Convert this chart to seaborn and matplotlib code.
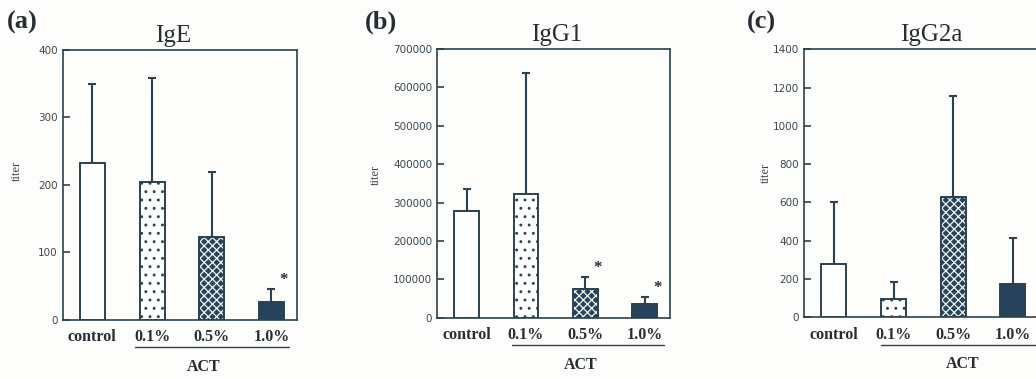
import numpy as np
import pandas as pd
import matplotlib
matplotlib.use("Agg")
import matplotlib.pyplot as plt
import seaborn as sns
from matplotlib.colors import to_rgba
from matplotlib.ticker import MultipleLocator, FuncFormatter
from matplotlib.transforms import blended_transform_factory

# ---- data -------------------------------------------------------------
groups = ["control", "0.1%", "0.5%", "1.0%"]

ige_mean = [232, 204, 123, 26]
ige_sd = [118, 154, 96, 19]
ige_sig = [False, False, False, True]

igg1_mean = [279000, 323000, 75000, 36000]
igg1_sd = [56000, 314000, 31000, 17000]
igg1_sig = [False, False, True, True]

igg2a_mean = [278, 98, 629, 175]
igg2a_sd = [325, 89, 528, 241]
igg2a_sig = [False, False, False, False]

panel_letters = ["(a)", "(b)", "(c)"]
panel_titles = ["IgE", "IgG1", "IgG2a"]
y_max = [400, 700000, 1400]
y_step = [100, 100000, 200]

# ---- style ------------------------------------------------------------
sns.set_style("white")
INK = "#2c414e"
TEXT = "#262d33"
DARK = "#27435b"
BG = "#fdfdfb"
plt.rcParams["font.family"] = ["Liberation Serif", "DejaVu Serif"]
plt.rcParams["hatch.linewidth"] = 0.9

W, H = 1036, 379
fig = plt.figure(figsize=(W / 100, H / 100), dpi=100, facecolor=BG)

# axes boxes in pixels: left, top, right, bottom
boxes = [(62.5, 50.0, 296.5, 319.5),
         (437.0, 49.0, 669.5, 317.7),
         (804.0, 49.3, 1038.0, 317.3)]
title_x = [0.472, 0.517, 0.543]
ylabel_xy = [(-0.169, 0.55), (-0.237, 0.53), (-0.137, 0.54)]
letter_x = [7, 365, 747]
act_x = [1.86, 1.92, 2.15]
line_span = [(0.72, 3.29), (0.77, 3.32), (0.79, 3.7)]

fills = ["white", "white", DARK, DARK]
hatches = [None, "..", "xxxx", None]

panels = [(ige_mean, ige_sd, ige_sig),
          (igg1_mean, igg1_sd, igg1_sig),
          (igg2a_mean, igg2a_sd, igg2a_sig)]

for i, (mean, sd, sig) in enumerate(panels):
    l, t, r, b = boxes[i]
    ax = fig.add_axes([l / W, (H - b) / H, (r - l) / W, (b - t) / H])
    ax.set_facecolor(BG)

    df = pd.DataFrame({"group": groups, "titer": mean})
    sns.barplot(data=df, x="group", y="titer", ax=ax, width=0.42,
                color="white", errorbar=None, zorder=3)

    for p, fc, hatch in zip(ax.patches, fills, hatches):
        p.set_facecolor(fc)
        p.set_edgecolor(INK)
        p.set_linewidth(1.4)
        if hatch:
            p.set_hatch(hatch)
            if fc == DARK:
                # light lattice lines over the dark fill
                if hasattr(p, "set_hatchcolor"):
                    p.set_hatchcolor("#f4f4f0")
                else:
                    p._hatch_color = to_rgba("#f4f4f0")

    x = np.arange(len(groups))
    ax.errorbar(x, mean, yerr=[np.zeros(len(sd)), sd], fmt="none",
                ecolor=INK, elinewidth=1.5, capsize=3.0, capthick=1.5,
                zorder=2)

    # significance marks
    for xi, m, s, flag in zip(x, mean, sd, sig):
        if flag:
            ax.text(xi + 0.21, (m + s) + 0.035 * y_max[i], "*",
                    ha="center", va="center", fontsize=12,
                    fontweight="bold", color=TEXT, zorder=4)

    ax.set_xlim(-0.5, 3.42)
    ax.set_ylim(0, y_max[i])
    ax.yaxis.set_major_locator(MultipleLocator(y_step[i]))
    ax.yaxis.set_major_formatter(FuncFormatter(lambda v, _: f"{int(v)}"))

    for sp in ax.spines.values():
        sp.set_visible(True)
        sp.set_color(INK)
        sp.set_linewidth(1.2)

    ax.tick_params(axis="y", direction="in", length=5, width=1.2,
                   color=INK, pad=3.5, labelsize=7.5, labelcolor="#3b4850",
                   left=True, right=False)
    for lab in ax.get_yticklabels():
        lab.set_fontfamily("DejaVu Sans")

    ax.set_xlabel("")
    ax.tick_params(axis="x", which="major", length=0, pad=7,
                   labelsize=11.5, labelcolor=TEXT)
    for lab in ax.get_xticklabels():
        lab.set_fontweight("bold")
    ax.set_xticks([0.5, 1.5, 2.5], minor=True)
    ax.tick_params(axis="x", which="minor", direction="in", length=3.5,
                   width=1.2, color=INK)

    ax.set_ylabel("titer", fontsize=9, color="#3b4850")
    ax.yaxis.set_label_coords(*ylabel_xy[i])

    ax.set_title(panel_titles[i], fontsize=18, color=TEXT, pad=6,
                 x=title_x[i])

    trans = blended_transform_factory(ax.transData, ax.transAxes)
    x0, x1 = line_span[i]
    ax.plot([x0, x1], [-0.102, -0.102], transform=trans, clip_on=False,
            color=INK, lw=1.0)
    ax.text(act_x[i], -0.175, "ACT", transform=trans, ha="center",
            va="center", fontsize=11.5, fontweight="bold", color=TEXT)

    fig.text(letter_x[i] / W, 1 - 22 / H, panel_letters[i],
             fontsize=19, fontweight="bold", color=TEXT,
             ha="left", va="center")

fig.savefig("out.png", dpi=100, facecolor=BG)
